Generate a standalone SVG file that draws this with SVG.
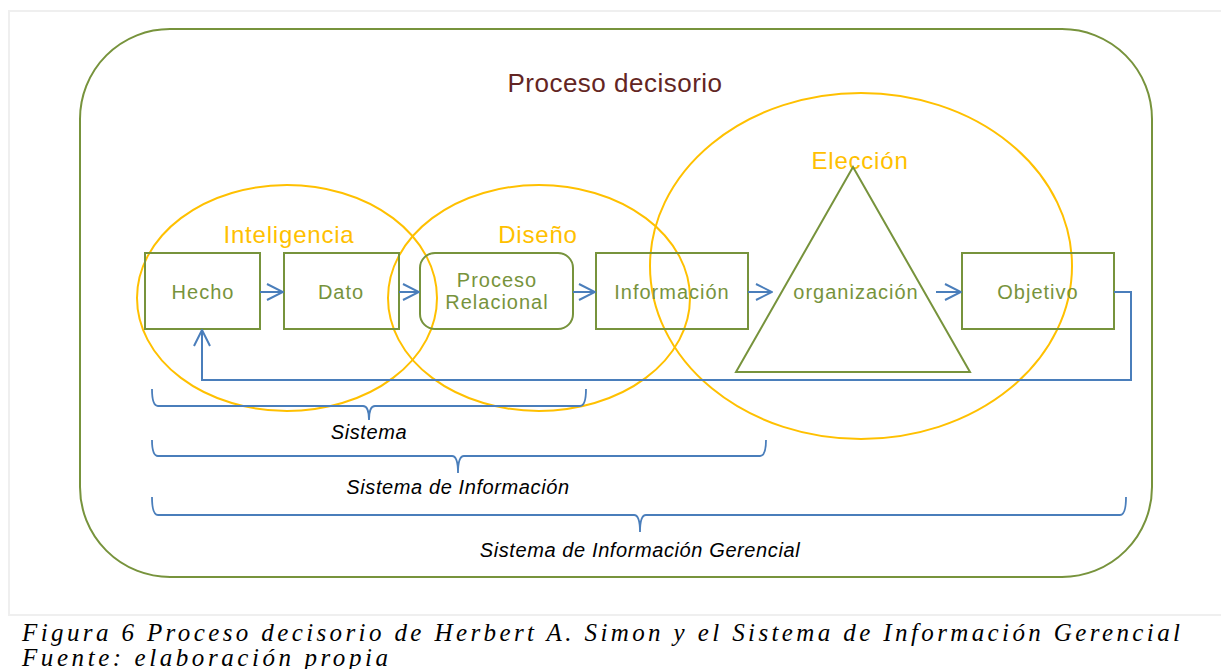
<svg xmlns="http://www.w3.org/2000/svg" width="1221" height="669" viewBox="0 0 1221 669">
  <style>
    .frame { fill: none; stroke: #efefef; stroke-width: 2; }
    .outer { fill: none; stroke: #77933c; stroke-width: 2; }
    .box { fill: none; stroke: #77933c; stroke-width: 2; }
    .phase { fill: none; stroke: #ffc000; stroke-width: 2; }
    .conn { fill: none; stroke: #4a7ebb; stroke-width: 2; }
    .brace { fill: none; stroke: #4a7ebb; stroke-width: 1.8; }
    .ntext { font-family: "Liberation Sans", Arial, sans-serif; font-size: 20px; fill: #77933c; text-anchor: middle; letter-spacing: 1px; }
    .ptext { font-family: "Liberation Sans", Arial, sans-serif; font-size: 24px; fill: #ffc000; text-anchor: middle; letter-spacing: 0.8px; }
    .title { font-family: "Liberation Sans", Arial, sans-serif; font-size: 26px; fill: #632523; text-anchor: middle; letter-spacing: 0.5px; }
    .btext { font-family: "Liberation Sans", Arial, sans-serif; font-size: 20px; font-style: italic; fill: #000000; text-anchor: middle; letter-spacing: 0.6px; }
    .caption { font-family: "Liberation Serif", "Times New Roman", serif; font-size: 25px; font-style: italic; fill: #000000; }
  </style>
  <defs>
    <marker id="arr" viewBox="0 0 18 18" refX="17" refY="9" markerWidth="18" markerHeight="18" markerUnits="userSpaceOnUse" orient="auto">
      <path d="M1,1 L17,9 L1,17" fill="none" stroke="#4a7ebb" stroke-width="2"/>
    </marker>
  </defs>
  <rect x="0" y="0" width="1221" height="669" fill="#ffffff"/>
  <path class="frame" d="M1225,11 H9 V615 H1225"/>

  <g id="proceso-decisorio">
    <rect class="outer" x="80" y="29" width="1072" height="548" rx="90" ry="90"/>
    <text class="title" x="615" y="92">Proceso decisorio</text>
  </g>

  <g id="inteligencia">
    <ellipse class="phase" cx="287" cy="298" rx="150" ry="113"/>
    <text class="ptext" x="289" y="243">Inteligencia</text>
  </g>
  <g id="diseno">
    <ellipse class="phase" cx="539" cy="298" rx="151" ry="113"/>
    <text class="ptext" x="538" y="243">Diseño</text>
  </g>
  <g id="eleccion">
    <ellipse class="phase" cx="861" cy="266" rx="211" ry="173"/>
    <text class="ptext" x="860" y="169">Elección</text>
  </g>

  <g id="hecho">
    <rect class="box" x="145" y="253" width="115" height="76"/>
    <text class="ntext" x="203" y="299">Hecho</text>
  </g>
  <g id="dato">
    <rect class="box" x="284" y="253" width="115" height="76"/>
    <text class="ntext" x="341" y="299">Dato</text>
  </g>
  <g id="proceso-relacional">
    <rect class="box" x="420" y="253" width="153" height="76" rx="15" ry="15"/>
    <text class="ntext" x="497" y="287">Proceso</text>
    <text class="ntext" x="497" y="309">Relacional</text>
  </g>
  <g id="informacion">
    <rect class="box" x="596" y="253" width="152" height="76"/>
    <text class="ntext" x="672" y="299">Información</text>
  </g>
  <g id="organizacion">
    <polygon class="box" points="853,167 970,372 736,372"/>
    <text class="ntext" x="856" y="299">organización</text>
  </g>
  <g id="objetivo">
    <rect class="box" x="962" y="253" width="152" height="76"/>
    <text class="ntext" x="1038" y="299">Objetivo</text>
  </g>

  <g id="connectors">
    <path class="conn" d="M260,292 H283" marker-end="url(#arr)"/>
    <path class="conn" d="M399,292 H419" marker-end="url(#arr)"/>
    <path class="conn" d="M573,292 H595" marker-end="url(#arr)"/>
    <path class="conn" d="M748,292 H772" marker-end="url(#arr)"/>
    <path class="conn" d="M936,292 H961" marker-end="url(#arr)"/>
    <path class="conn" d="M1114,292 H1131 V380 H202 V330" marker-end="url(#arr)"/>
  </g>

  <g id="sistema">
    <path class="brace" d="M152,389 Q152,406 158,406 H363 Q369,406 369,420 Q369,406 375,406 H580 Q586,406 586,389"/>
    <text class="btext" x="369" y="439">Sistema</text>
  </g>
  <g id="sistema-informacion">
    <path class="brace" d="M152,440 Q152,456 158,456 H452 Q458,456 458,473 Q458,456 464,456 H760 Q766,456 766,440"/>
    <text class="btext" x="458" y="494">Sistema de Información</text>
  </g>
  <g id="sistema-informacion-gerencial">
    <path class="brace" d="M152,497 Q152,515 158,515 H634 Q640,515 640,532 Q640,515 646,515 H1120 Q1126,515 1126,497"/>
    <text class="btext" x="640" y="557">Sistema de Información Gerencial</text>
  </g>

  <g id="caption">
    <text class="caption" x="22" y="641" textLength="1158" lengthAdjust="spacing">Figura 6 Proceso decisorio de Herbert A. Simon y el Sistema de Información Gerencial</text>
    <text class="caption" x="22" y="666" textLength="366" lengthAdjust="spacing">Fuente: elaboración propia</text>
  </g>
</svg>
